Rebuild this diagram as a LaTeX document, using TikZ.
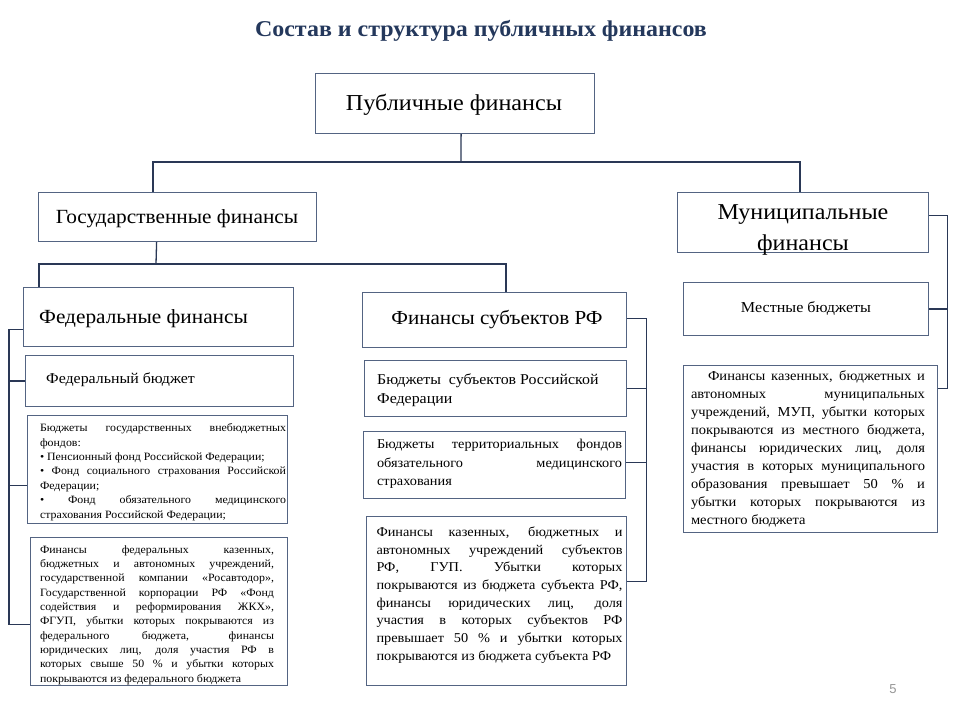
\documentclass[tikz,border=0pt]{standalone}
\usepackage{fontspec}
\setmainfont{Liberation Serif}[FakeStretch=1.06]
\newfontfamily\numfont{Liberation Sans}
\usetikzlibrary{calc}
\definecolor{boxc}{RGB}{84,100,130}
\definecolor{linec}{RGB}{42,56,86}
\definecolor{titlec}{RGB}{36,56,92}
\definecolor{numc}{RGB}{150,150,150}
\setlength{\parindent}{0pt}
\tolerance=10000 \hbadness=10000 \hyphenpenalty=10000 \exhyphenpenalty=10000
\begin{document}
\begin{tikzpicture}[x=1pt,y=-1pt,
  box/.style={draw=boxc, line width=1.2pt, fill=white, inner sep=0pt, anchor=north west},
  conn/.style={draw=linec, line width=1.3pt},
  txt/.style={inner sep=0pt, text=black},
  jtxt/.style={inner sep=0pt, text=black, align=justify}]
\fill[white] (0,0) rectangle (960,720);
\useasboundingbox (0,0) rectangle (960,720);

% title
\node[txt, text=titlec, font=\fontsize{22.6}{26}\selectfont\bfseries] (title) at (481,31) {Состав и структура публичных финансов};

% boxes
\node[box, minimum width=279pt, minimum height=60pt] (pub) at (315,73) {};
\node[box, minimum width=278pt, minimum height=49pt] (gos) at (38,192) {};
\node[box, minimum width=251pt, minimum height=60pt] (mun) at (677,192) {};
\node[box, minimum width=270pt, minimum height=59pt] (fed) at (23,287) {};
\node[box, minimum width=268pt, minimum height=51pt] (fb) at (25,355) {};
\node[box, minimum width=260pt, minimum height=108pt] (ob) at (27,415) {};
\node[box, minimum width=257pt, minimum height=148pt] (ff) at (30,537) {};
\node[box, minimum width=264pt, minimum height=55pt] (subj) at (362,292) {};
\node[box, minimum width=262pt, minimum height=56pt] (sb) at (364,360) {};
\node[box, minimum width=262pt, minimum height=67pt] (tf) at (363,431) {};
\node[box, minimum width=260pt, minimum height=169pt] (sf) at (366,516) {};
\node[box, minimum width=245pt, minimum height=53pt] (loc) at (683,282) {};
\node[box, minimum width=254pt, minimum height=167pt] (mf) at (683,365) {};

% texts
\node[txt, font=\fontsize{22.8}{26}\selectfont] (pubt) at (454,105) {Публичные финансы};
\node[txt, font=\fontsize{20.1}{24}\selectfont] (gost) at (177,219) {Государственные финансы};
\node[txt, align=center, font=\fontsize{22.7}{31}\selectfont] (munt) at (803,230) {Муниципальные\\финансы};
\node[txt, anchor=west, font=\fontsize{20.1}{24}\selectfont] (fedt) at (39,319) {Федеральные финансы};
\node[txt, font=\fontsize{19.9}{24}\selectfont] (subjt) at (497,320) {Финансы субъектов РФ};
\node[txt, anchor=west, font=\fontsize{15}{18}\selectfont] (fbt) at (46,380) {Федеральный бюджет};
\node[txt, anchor=west, align=left, font=\fontsize{15}{19.5}\selectfont] (sbt) at (377,390) {Бюджеты~~субъектов Российской\\Федерации};
\node[txt, font=\fontsize{15.2}{18}\selectfont] (loct) at (806,309) {Местные бюджеты};

\node[jtxt, text width=246pt, font=\fontsize{11.2}{14.4}\selectfont] (obt) at (163,472)
{Бюджеты государственных внебюджетных\linebreak фондов:\\
• Пенсионный фонд Российской Федерации;\\
• Фонд социального страхования Российской\linebreak Федерации;\\
• Фонд обязательного медицинского\linebreak страхования Российской Федерации;};

\node[jtxt, text width=234pt, font=\fontsize{11.2}{14.3}\selectfont] (fft) at (157,615)
{Финансы федеральных казенных,\linebreak бюджетных и автономных учреждений,\linebreak государственной компании «Росавтодор»,\linebreak Государственной корпорации РФ «Фонд\linebreak содействия и реформирования ЖКХ»,\linebreak ФГУП, убытки которых покрываются из\linebreak федерального бюджета, финансы\linebreak юридических лиц, доля участия РФ в\linebreak которых свыше 50 \% и убытки которых\linebreak покрываются из федерального бюджета};

\node[jtxt, text width=245pt, font=\fontsize{13.5}{18.5}\selectfont] (tft) at (499.5,464)
{Бюджеты территориальных фондов\linebreak обязательного медицинского\linebreak страхования};

\node[jtxt, text width=246pt, font=\fontsize{13.5}{17.7}\selectfont] (sft) at (499.5,595)
{Финансы казенных, бюджетных и\linebreak автономных учреждений субъектов\linebreak РФ, ГУП. Убытки которых\linebreak покрываются из бюджета субъекта РФ,\linebreak финансы юридических лиц, доля\linebreak участия в которых субъектов РФ\linebreak превышает 50 \% и убытки которых\linebreak покрываются из бюджета субъекта РФ};

\node[jtxt, text width=234pt, font=\fontsize{13.7}{18}\selectfont] (mft) at (808,449)
{\hspace*{17pt}Финансы казенных, бюджетных и\linebreak автономных муниципальных\linebreak учреждений, МУП, убытки которых\linebreak покрываются из местного бюджета,\linebreak финансы юридических лиц, доля\linebreak участия в которых муниципального\linebreak образования превышает 50 \% и\linebreak убытки которых покрываются из\linebreak местного бюджета};

\node[txt, text=numc, font=\numfont\fontsize{13}{15}\selectfont] (pnum) at (893,689) {5};

% connectors: top level
\coordinate (b1) at (461,162);
\draw[conn] ($(pub.south)+(6,0)$) -- (b1);
\draw[conn] ($(gos.north west)+(115,0)$) |- (b1) -| ($(mun.north west)+(123,0)$);

% second level
\coordinate (b2) at (156,264);
\draw[conn] ($(gos.south)+(-21,0)$) -- (b2);
\draw[conn] ($(fed.north west)+(16,0)$) |- (b2) -| ($(subj.north west)+(144,0)$);

% left bus (federal)
\draw[conn] ($(fed.west)+(0,12.5)$) -| ($(ff.west)+(-21,13)$) -- ($(ff.west)+(0,13)$);
\draw[conn] (fb.west) -- ($(fb.west)+(-16,0)$);
\draw[conn] ($(ob.west)+(0,16)$) -- ($(ob.west)+(-18,16)$);

% right bus (subjects)
\draw[conn] ($(subj.east)+(0,-1.5)$) -| ($(sf.east)+(19,-19.5)$) -- ($(sf.east)+(0,-19.5)$);
\draw[conn] (sb.east) -- ($(sb.east)+(19,0)$);
\draw[conn] ($(tf.east)+(0,-2.5)$) -- ($(tf.east)+(20,-2.5)$);

% municipal bus
\draw[conn] ($(mun.east)+(0,-7)$) -| ($(mf.east)+(9,-60.5)$) -- ($(mf.east)+(0,-60.5)$);
\draw[conn] (loc.east) -- ($(loc.east)+(18,0)$);
\end{tikzpicture}
\end{document}
